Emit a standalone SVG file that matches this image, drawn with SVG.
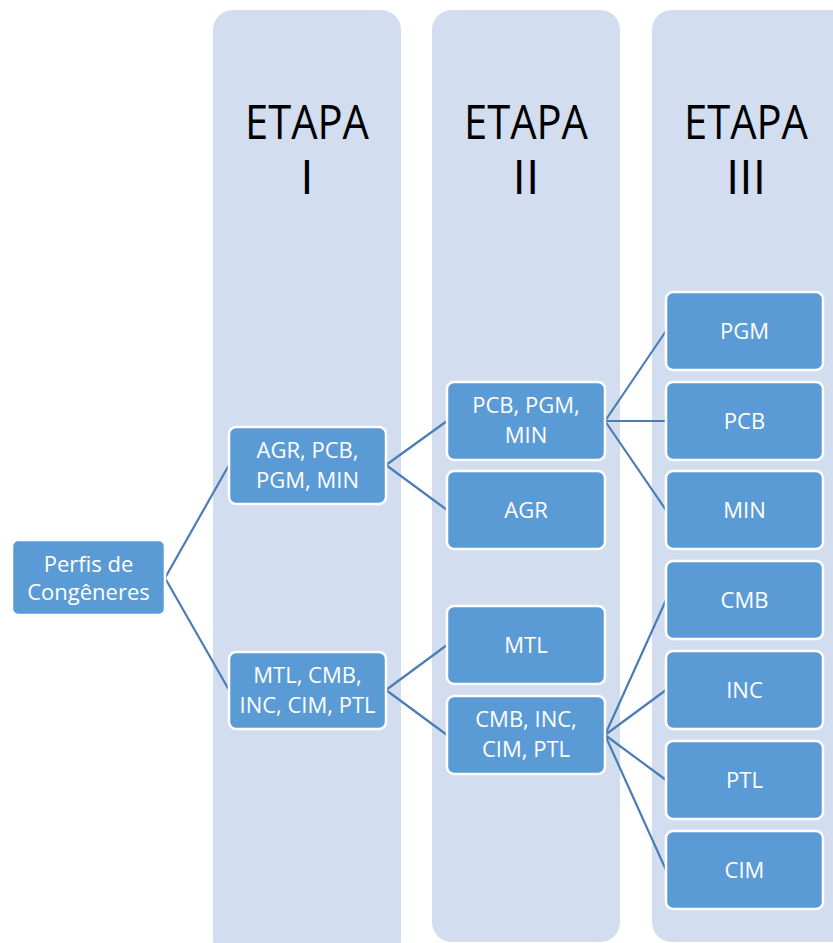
<svg xmlns="http://www.w3.org/2000/svg" width="833" height="943" viewBox="0 0 833 943">
<style>
.col{fill:#D2DEEF;}
.node{fill:#5B9BD5;stroke:#FFFFFF;stroke-width:2.5;}
.t{font-family:"Open Sans","Liberation Sans",sans-serif;font-size:22px;fill:#FFFFFF;text-anchor:middle;}
.h{font-family:"Open Sans","Liberation Sans",sans-serif;font-size:48px;fill:#000000;text-anchor:middle;}
.c{stroke:#4A7DB5;stroke-width:2.2;fill:none;}
</style>
<rect width="833" height="943" fill="#FFFFFF"/>
<g id="col1"><rect class="col" x="213" y="10" width="188" height="950" rx="20"/>
<text class="h" x="307" y="139" textLength="124" lengthAdjust="spacingAndGlyphs">ETAPA</text><text class="h" x="307" y="194">I</text></g>
<g id="col2"><rect class="col" x="432" y="10" width="188" height="932" rx="20"/>
<text class="h" x="526" y="139" textLength="124" lengthAdjust="spacingAndGlyphs">ETAPA</text><text class="h" x="526" y="194">II</text></g>
<g id="col3"><rect class="col" x="652" y="10" width="200" height="932" rx="20"/>
<text class="h" x="746" y="139" textLength="124" lengthAdjust="spacingAndGlyphs">ETAPA</text><text class="h" x="746" y="194">III</text></g>
<g id="connectors">
<path class="c" d="M165 578 L229 465 M165 578 L229 690"/>
<path class="c" d="M386 465 L447 421 M386 465 L447 510"/>
<path class="c" d="M386 690 L447 645 M386 690 L447 735"/>
<path class="c" d="M605 421 L666 331 M605 421 L666 421 M605 421 L666 510"/>
<path class="c" d="M605 735 L666 600 M605 735 L666 690 M605 735 L666 780 M605 735 L666 870"/>
</g>
<g id="n-perfis"><rect class="node" x="12" y="540" width="153" height="75" rx="6"/><text class="t" x="88.5" y="572">Perfis de</text><text class="t" x="88.5" y="600">Congêneres</text></g>
<g id="n-agr1"><rect class="node" x="229" y="427" width="157" height="77" rx="7"/><text class="t" x="307.5" y="458">AGR, PCB,</text><text class="t" x="307.5" y="488">PGM, MIN</text></g>
<g id="n-mtl1"><rect class="node" x="229" y="652" width="157" height="77" rx="7"/><text class="t" x="307.5" y="683">MTL, CMB,</text><text class="t" x="307.5" y="713">INC, CIM, PTL</text></g>
<g id="n-pcb2"><rect class="node" x="447" y="382" width="158" height="78" rx="7"/><text class="t" x="526" y="413">PCB, PGM,</text><text class="t" x="526" y="443">MIN</text></g>
<g id="n-agr2"><rect class="node" x="447" y="471" width="158" height="78" rx="7"/><text class="t" x="526" y="518">AGR</text></g>
<g id="n-mtl2"><rect class="node" x="447" y="606" width="158" height="78" rx="7"/><text class="t" x="526" y="653">MTL</text></g>
<g id="n-cmb2"><rect class="node" x="447" y="696" width="158" height="78" rx="7"/><text class="t" x="526" y="727">CMB, INC,</text><text class="t" x="526" y="757">CIM, PTL</text></g>
<g id="n-pgm3"><rect class="node" x="666" y="292" width="157" height="78" rx="7"/><text class="t" x="744.5" y="339">PGM</text></g>
<g id="n-pcb3"><rect class="node" x="666" y="382" width="157" height="78" rx="7"/><text class="t" x="744.5" y="429">PCB</text></g>
<g id="n-min3"><rect class="node" x="666" y="471" width="157" height="78" rx="7"/><text class="t" x="744.5" y="518">MIN</text></g>
<g id="n-cmb3"><rect class="node" x="666" y="561" width="157" height="78" rx="7"/><text class="t" x="744.5" y="608">CMB</text></g>
<g id="n-inc3"><rect class="node" x="666" y="651" width="157" height="78" rx="7"/><text class="t" x="744.5" y="698">INC</text></g>
<g id="n-ptl3"><rect class="node" x="666" y="741" width="157" height="78" rx="7"/><text class="t" x="744.5" y="788">PTL</text></g>
<g id="n-cim3"><rect class="node" x="666" y="831" width="157" height="78" rx="7"/><text class="t" x="744.5" y="878">CIM</text></g>
</svg>
